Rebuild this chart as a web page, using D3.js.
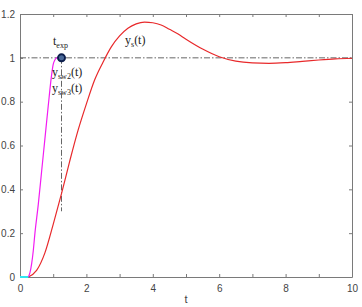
<!DOCTYPE html>
<html>
<head>
<meta charset="utf-8">
<script src="https://d3js.org/d3.v7.min.js"></script>
<style>
  body { margin: 0; background: #fff; }
  svg { display: block; }
</style>
</head>
<body>
<script>
// data
var tRed = [0.25, 0.5, 0.75, 1.0, 1.25, 1.5, 1.75, 2.0, 2.25, 2.5, 2.75, 3.0, 3.25, 3.5, 3.75, 4.0, 4.25, 4.5, 4.75, 5.0, 5.5, 6.0, 6.5, 7.0, 7.5, 8.0, 8.5, 9.0, 9.5, 10.0];
var ySs  = [0, 0.03, 0.11, 0.24, 0.38, 0.53, 0.67, 0.79, 0.9, 0.98, 1.05, 1.1, 1.135, 1.155, 1.163, 1.16, 1.15, 1.13, 1.11, 1.085, 1.04, 1.005, 0.985, 0.977, 0.975, 0.978, 0.984, 0.99, 0.995, 0.998];
var tMag = [0.25, 0.3, 0.35, 0.4, 0.45, 0.55, 0.65, 0.75, 0.85, 0.95, 1.0, 1.05, 1.1, 1.25];
var ySw  = [0, 0.02, 0.06, 0.12, 0.2, 0.33, 0.48, 0.63, 0.78, 0.92, 0.97, 0.99, 1.0, 1.0];
var tCyan = [0, 0.25];
var yCyan = [0, 0];
var tExp = 1.25;
var yRef = 1;
var yDropEnd = 0.3;
var xTicks = [0, 1, 2, 3, 4, 5, 6, 7, 8, 9, 10];
var xLabels = [0, 2, 4, 6, 8, 10];
var yTicks = [0, 0.2, 0.4, 0.6, 0.8, 1, 1.2];

var width = 362, height = 307;
var margin = {top: 14, right: 10, bottom: 30, left: 20};

var svg = d3.select("body").append("svg")
  .attr("width", width)
  .attr("height", height);

var x = d3.scaleLinear().domain([0, 10]).range([margin.left, width - margin.right]);
var y = d3.scaleLinear().domain([0, 1.2]).range([height - margin.bottom, margin.top]);

var axisColor = "#7a7a7a";
var textColor = "#444";

// axes (MATLAB style, ticks pointing in, box on)
var gx = svg.append("g")
  .attr("transform", "translate(0," + y(0) + ")")
  .call(d3.axisBottom(x).tickValues(xTicks).tickSizeInner(-3).tickSizeOuter(0)
    .tickFormat(function(d) { return xLabels.indexOf(d) >= 0 ? d : ""; }));
var gxTop = svg.append("g")
  .attr("transform", "translate(0," + y(1.2) + ")")
  .call(d3.axisTop(x).tickValues(xTicks).tickSizeInner(-3).tickSizeOuter(0).tickFormat(""));
var gy = svg.append("g")
  .attr("transform", "translate(" + x(0) + ",0)")
  .call(d3.axisLeft(y).tickValues(yTicks).tickSizeInner(-3).tickSizeOuter(0)
    .tickFormat(function(d) { return d3.format("~g")(d); }));
var gyR = svg.append("g")
  .attr("transform", "translate(" + x(10) + ",0)")
  .call(d3.axisRight(y).tickValues(yTicks).tickSizeInner(-3).tickSizeOuter(0).tickFormat(""));

[gx, gxTop, gy, gyR].forEach(function(g) {
  g.selectAll("path, line").attr("stroke", axisColor);
  g.selectAll("text").attr("fill", textColor)
    .style("font-family", "'Liberation Sans', Arial, sans-serif")
    .style("font-size", "10px");
});
gx.selectAll("text").attr("dy", "0.9em").attr("y", 6);
gy.selectAll("text").attr("x", -5);

svg.append("text")
  .attr("x", x(5))
  .attr("y", 303)
  .attr("text-anchor", "middle")
  .attr("fill", textColor)
  .style("font-family", "'Liberation Sans', Arial, sans-serif")
  .style("font-size", "11px")
  .text("t");

// dash-dot reference lines
svg.append("line")
  .attr("x1", x(0)).attr("x2", x(10))
  .attr("y1", y(yRef)).attr("y2", y(yRef))
  .attr("stroke", "#555").attr("stroke-width", 0.9)
  .attr("stroke-dasharray", "6,2,1.5,2");
svg.append("line")
  .attr("x1", x(tExp)).attr("x2", x(tExp))
  .attr("y1", y(yRef)).attr("y2", y(yDropEnd))
  .attr("stroke", "#555").attr("stroke-width", 0.9)
  .attr("stroke-dasharray", "6,2,1.5,2");

var line = d3.line().curve(d3.curveMonotoneX);

function pts(ts, ys) {
  return ts.map(function(t, i) { return [x(t), y(ys[i])]; });
}

svg.append("path")
  .attr("d", line(pts(tRed, ySs)))
  .attr("fill", "none").attr("stroke", "#e8292b").attr("stroke-width", 1.2);
svg.append("path")
  .attr("d", line(pts(tMag, ySw)))
  .attr("fill", "none").attr("stroke", "#f21cf2").attr("stroke-width", 1.2);
svg.append("path")
  .attr("d", line(pts(tCyan, yCyan)))
  .attr("fill", "none").attr("stroke", "#2fe6f0").attr("stroke-width", 2);

// marker at t_exp
svg.append("circle")
  .attr("cx", x(tExp)).attr("cy", y(yRef))
  .attr("r", 3.5)
  .attr("fill", "#4a6a9a")
  .attr("stroke", "#0d1f4d")
  .attr("stroke-width", 2);

// annotations (serif, subscripts)
var serif = "'Liberation Serif', 'Times New Roman', serif";
function label(xp, yp, main, sub, tail) {
  var t = svg.append("text")
    .attr("x", xp).attr("y", yp)
    .attr("fill", "#222")
    .style("font-family", serif)
    .style("font-size", "12px");
  t.append("tspan").text(main);
  t.append("tspan").attr("dy", 3).style("font-size", "8px").text(sub);
  if (tail) t.append("tspan").attr("dy", -3).text(tail);
}
label(53, 45, "t", "exp", "");
label(125, 44, "y", "s", "(t)");
label(52, 76, "y", "sw2", "(t)");
label(52, 92, "y", "sw3", "(t)");
</script>
</body>
</html>
